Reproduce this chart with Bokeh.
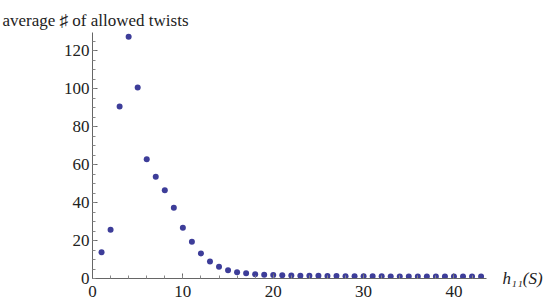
from bokeh.plotting import figure
from bokeh.models import Range1d, FixedTicker, LinearAxis
from bokeh.embed import file_html
from bokeh.resources import INLINE

h11 = list(range(1, 44))
avg_twists = [13.8, 25.6, 90.5, 127.2, 100.5, 62.8, 53.5, 46.5, 37.2, 26.7,
              19.4, 13.2, 9.0, 6.2, 4.3, 3.3, 2.8, 2.3, 2.0, 1.8,
              1.7, 1.6, 1.5, 1.45, 1.4, 1.35, 1.3, 1.25, 1.2, 1.2,
              1.15, 1.15, 1.1, 1.1, 1.1, 1.05, 1.05, 1.05, 1.0, 1.0,
              1.0, 1.0, 1.0]
x_ticks = [0, 10, 20, 30, 40]
x_tick_labels = ["0", "10", "20", "30", "40"]
y_ticks = [0, 20, 40, 60, 80, 100, 120]
y_tick_labels = ["0", "20", "40", "60", "80", "100", "120"]
y_label = "average \u266f of allowed twists"
x_label = "h\u2081\u2081(S)"

font = "Liberation Serif"

W, H = 545, 302
p = figure(width=W, height=H, output_backend="svg", toolbar_location=None,
           x_axis_location=None, y_axis_location=None,
           min_border_left=92, min_border_right=50, min_border_top=32,
           min_border_bottom=24)
p.x_range = Range1d(0, 43.6)
p.y_range = Range1d(0, 129.5)
p.outline_line_color = None
p.xgrid.visible = False
p.ygrid.visible = False

p.title.text = y_label
p.title.align = "left"
p.title.offset = -90
p.title.text_font = font
p.title.text_font_size = "17px"
p.title.text_font_style = "normal"
p.title.text_color = "#222222"
p.title.standoff = 6

p.scatter(h11, avg_twists, size=6, color="#3d3d99", line_color=None)


def make_axis(ticks, labels, minor):
    return LinearAxis(
        ticker=FixedTicker(ticks=ticks, minor_ticks=minor),
        major_label_overrides={t: s for t, s in zip(ticks, labels)},
        axis_line_color="#666666",
        major_tick_line_color="#666666",
        minor_tick_line_color="#888888",
        major_tick_in=5, major_tick_out=0,
        minor_tick_in=3, minor_tick_out=0,
        major_label_standoff=5,
        major_label_text_font=font,
        major_label_text_font_style="normal",
        major_label_text_font_size="17px",
        major_label_text_color="#222222",
    )


xax = make_axis(x_ticks, x_tick_labels, list(range(0, 44, 2)))
xax.major_label_standoff = 7
p.add_layout(xax, "below")

yax = make_axis(y_ticks, y_tick_labels, list(range(0, 130, 5)))
yax.major_label_standoff = 3
p.add_layout(yax, "left")

lab = LinearAxis(ticker=FixedTicker(ticks=[0], minor_ticks=[]),
                 major_label_overrides={0: x_label},
                 axis_line_color=None, major_tick_line_color=None,
                 minor_tick_line_color=None, major_label_standoff=10,
                 major_label_text_font=font, major_label_text_font_style="italic",
                 major_label_text_font_size="17px", major_label_text_color="#222222")
p.add_layout(lab, "right")

open("out.html", "w").write(file_html(p, INLINE))
